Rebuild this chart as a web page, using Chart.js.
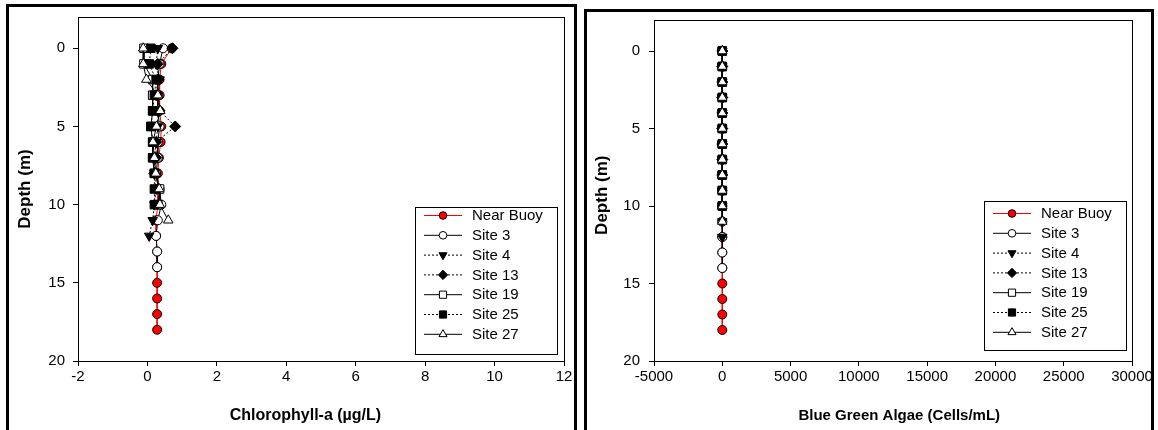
<!DOCTYPE html>
<html><head><meta charset="utf-8">
<script src="https://cdn.jsdelivr.net/npm/chart.js@4.4.1/dist/chart.umd.min.js"></script>
<style>
html,body{margin:0;padding:0;background:#fff;width:1158px;height:430px;overflow:hidden;}
.wrap{position:absolute;top:0;}
.frame{position:absolute;border:3px solid #000;border-bottom:none;pointer-events:none;}
</style></head><body>
<div class="wrap" style="left:0"><canvas id="c1" width="578" height="430"></canvas></div>
<div class="wrap" style="left:580px"><canvas id="c2" width="578" height="430"></canvas></div>
<div class="frame" style="left:6px;top:4px;width:565px;height:440px"></div>
<div class="frame" style="left:584px;top:9px;width:564px;height:440px"></div>
<script>
// ---- data ----
const seriesNames = ["Near Buoy", "Site 3", "Site 4", "Site 13", "Site 19", "Site 25", "Site 27"];

const depthNearBuoy = [0,1,2,3,4,5,6,7,8,9,10,11,12,13,14,15,16,17,18];
const depthSite3    = [0,1,2,3,4,5,6,7,8,9,10,11,12,13,14];
const depthSite4    = [0,1,2,3,4,5,6,7,8,9,10,11,12];
const depthSite13   = [0,1,2,3,4,5,6,7,8];
const depthSite19   = [0,1,2,3,4,5,6,7,8,9,10];
const depthSite25   = [0,1,2,3,4,5,6,7,8,9,10];
const depthSite27   = [0,1,2,3,4,5,6,7,8,9,10,11];

const chlNearBuoy = [0.70,0.40,0.35,0.35,0.35,0.40,0.38,0.33,0.30,0.30,0.30,0.25,0.25,0.28,0.28,0.28,0.28,0.28,0.28];
const chlSite3    = [0.45,0.35,0.30,0.30,0.30,0.35,0.30,0.30,0.25,0.35,0.40,0.30,0.25,0.28,0.28];
const chlSite4    = [0.30,0.25,0.35,0.30,0.30,0.30,0.25,0.20,0.20,0.25,0.20,0.15,0.05];
const chlSite13   = [0.72,0.30,0.30,0.25,0.35,0.80,0.25,0.25,0.20];
const chlSite19   = [-0.10,-0.10,0.15,0.15,0.15,0.10,0.15,0.15,0.20,0.35,0.30];
const chlSite25   = [0.10,0.05,0.25,0.20,0.15,0.10,0.15,0.15,0.20,0.20,0.20];
const chlSite27   = [-0.12,-0.12,-0.03,0.30,0.37,0.26,0.16,0.20,0.24,0.34,0.36,0.60];

const bgaNearBuoy = [0,0,0,0,0,0,0,0,0,0,0,0,0,0,0,0,0,0,0];
const bgaSite3    = [0,0,0,0,0,0,0,0,0,0,0,0,0,0,0];
const bgaSite4    = [0,0,0,0,0,0,0,0,0,0,0,0,0];
const bgaSite13   = [0,0,0,0,0,0,0,0,0];
const bgaSite19   = [0,0,0,0,0,0,0,0,0,0,0];
const bgaSite25   = [0,0,0,0,0,0,0,0,0,0,0];
const bgaSite27   = [0,0,0,0,0,0,0,0,0,0,0,0];

const depthTicks = [0,5,10,15,20];
const chlTicks = [-2,0,2,4,6,8,10,12];
const bgaTicks = [-5000,0,5000,10000,15000,20000,25000,30000];

const depths = [depthNearBuoy, depthSite3, depthSite4, depthSite13, depthSite19, depthSite25, depthSite27];
const chlVals = [chlNearBuoy, chlSite3, chlSite4, chlSite13, chlSite19, chlSite25, chlSite27];
const bgaVals = [bgaNearBuoy, bgaSite3, bgaSite4, bgaSite13, bgaSite19, bgaSite25, bgaSite27];

// ---- styles ----
const styles = [
  {line:'#ff0000', dash:[], ps:'circle', fill:'#ff0000', r:4.5, rot:0},
  {line:'#000000', dash:[], ps:'circle', fill:'#ffffff', r:4.5, rot:0},
  {line:'#000000', dash:[2,2], ps:'triangle', fill:'#000000', r:5.5, rot:180},
  {line:'#000000', dash:[2,2], ps:'rectRot', fill:'#000000', r:5.5, rot:0},
  {line:'#000000', dash:[], ps:'rect', fill:'#ffffff', r:6, rot:0},
  {line:'#000000', dash:[2,2], ps:'rect', fill:'#000000', r:6, rot:0},
  {line:'#000000', dash:[], ps:'triangle', fill:'#ffffff', r:5.5, rot:0},
];

const FONT = "'Liberation Sans', Arial, sans-serif";

function makeDatasets(vals){
  return seriesNames.map((name,i)=>({
    label: name,
    data: depths[i].map((d,j)=>({x: vals[i][j], y: d})),
    showLine: true,
    borderColor: styles[i].line,
    borderWidth: 1,
    borderDash: styles[i].dash,
    pointStyle: styles[i].ps,
    pointRotation: styles[i].rot,
    pointRadius: styles[i].r,
    pointBackgroundColor: styles[i].fill,
    pointBorderColor: '#000000',
    pointBorderWidth: 1,
    order: seriesNames.length - i,
    tension: 0
  }));
}

const boxLegend = {
  id: 'boxLegend',
  afterDraw(chart, args, o){
    const ctx = chart.ctx, a = chart.chartArea;
    ctx.save();
    ctx.strokeStyle = '#000'; ctx.lineWidth = 1;
    ctx.strokeRect(Math.round(a.left)+0.5, Math.round(a.top)+0.5, Math.round(a.right-a.left), Math.round(a.bottom-a.top));
    // legend
    const bw = o.w, bh = o.h;
    const bx = Math.round(a.right - o.rightGap - bw), by = Math.round(a.bottom - o.bottomGap - bh);
    ctx.fillStyle = '#fff';
    ctx.fillRect(bx, by, bw, bh);
    ctx.strokeRect(bx+0.5, by+0.5, bw, bh);
    ctx.font = '15px ' + FONT;
    ctx.textBaseline = 'middle';
    chart.data.datasets.forEach((ds,i)=>{
      const y = by + o.firstRow + i*o.rowH;
      ctx.strokeStyle = ds.borderColor; ctx.lineWidth = 1;
      ctx.setLineDash(ds.borderDash||[]);
      ctx.beginPath(); ctx.moveTo(bx+o.lineX0, y+0.5); ctx.lineTo(bx+o.lineX1, y+0.5); ctx.stroke();
      ctx.setLineDash([]);
      ctx.fillStyle = ds.pointBackgroundColor; ctx.strokeStyle = '#000';
      Chart.helpers.drawPoint(ctx, {pointStyle: ds.pointStyle, rotation: ds.pointRotation, radius: ds.pointRadius*0.85, borderWidth: 1}, bx+(o.lineX0+o.lineX1)/2, y+0.5);
      ctx.fillStyle = '#000';
      ctx.fillText(ds.label, bx+o.textX, y+1);
    });
    ctx.restore();
  }
};

function makeChart(id, vals, xmin, xmax, xticks, xtitle, lay){
  return new Chart(document.getElementById(id), {
    type: 'scatter',
    data: { datasets: makeDatasets(vals) },
    options: {
      responsive: false, animation: false,
      layout: { padding: { left: 0, top: lay.top, right: lay.right, bottom: 0 } },
      plugins: {
        legend: { display: false }, tooltip: { enabled: false },
        boxLegend: lay.legend
      },
      scales: {
        x: {
          type: 'linear', min: xmin, max: xmax,
          afterBuildTicks: s => { s.ticks = xticks.map(v=>({value:v})); },
          afterFit: s => { s.height = lay.xh; },
          ticks: { color: '#000', font: { family: FONT, size: 15 }, padding: 2, maxRotation: 0, autoSkip: false,
                   callback: v => String(v) },
          grid: { drawOnChartArea: false, drawTicks: true, tickLength: 5, color: '#000' },
          border: { display: true, color: '#000' },
          title: { display: true, text: xtitle, color: '#000', font: { family: FONT, size: lay.xts, weight: 'bold' }, padding: { top: 0, bottom: 5 } }
        },
        y: {
          type: 'linear', min: -2, max: 20, reverse: true,
          afterBuildTicks: s => { s.ticks = depthTicks.map(v=>({value:v})); },
          afterFit: s => { s.width = lay.yw; },
          ticks: { color: '#000', font: { family: FONT, size: 15 }, padding: lay.ypad, autoSkip: false,
                   callback: v => String(v) },
          grid: { drawOnChartArea: false, drawTicks: true, tickLength: 5, color: '#000' },
          border: { display: true, color: '#000' },
          title: { display: true, text: lay.ytitle, color: '#000', font: { family: FONT, size: 17, weight: 'bold' }, padding: { top: lay.ytp, bottom: 0 } }
        }
      }
    },
    plugins: [boxLegend]
  });
}

const legendLeft = { w: 142, h: 147, rightGap: 7, bottomGap: 7, firstRow: 8, rowH: 19.8, lineX0: 9, lineX1: 47, textX: 57 };
const legendRight = { w: 142, h: 149, rightGap: 6, bottomGap: 11, firstRow: 12, rowH: 19.8, lineX0: 9, lineX1: 47, textX: 57 };

makeChart('c1', chlVals, -2, 12, chlTicks, 'Chlorophyll-a (\u00b5g/L)' + '\u00a0'.repeat(7),
  { top: 17, right: 14, xh: 69, yw: 78, ypad: 8, ytp: 15, xts: 16, ytitle: 'Depth (m)', legend: legendLeft });
makeChart('c2', bgaVals, -5000, 30000, bgaTicks, '\u00a0'.repeat(3) + 'Blue Green Algae (Cells/mL)',
  { top: 20, right: 26, xh: 69, yw: 74, ypad: 9, ytp: 12, xts: 15, ytitle: 'Depth (m)\u00a0\u00a0', legend: legendRight });
</script>
</body></html>
